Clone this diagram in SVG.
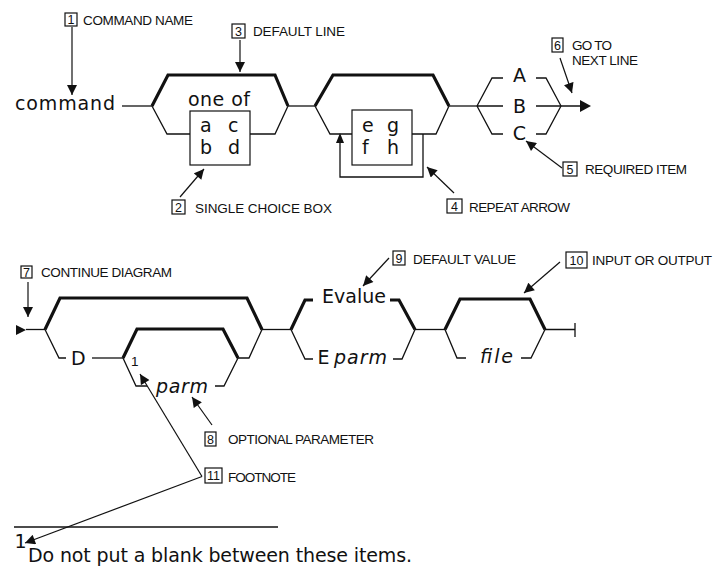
<svg xmlns="http://www.w3.org/2000/svg" width="713" height="568" viewBox="0 0 713 568">
<defs>
<style>
.thin{fill:none;stroke:#111;stroke-width:1.3;stroke-linejoin:miter}
.thick{fill:none;stroke:#111;stroke-width:3.2;stroke-linejoin:miter}
.ptr{fill:none;stroke:#111;stroke-width:1.2;marker-end:url(#ah)}
.box{fill:#fff;stroke:#111;stroke-width:1.2}
.num{font-family:"Liberation Sans",Arial,sans-serif;font-size:12.5px;fill:#111;text-anchor:middle}
.lab{font-family:"Liberation Sans",Arial,sans-serif;font-size:13.5px;fill:#111}
.dg{font-family:"DejaVu Sans","Liberation Sans",sans-serif;font-size:19px;fill:#111}
.it{font-style:italic}
.ctr{text-anchor:middle}
</style>
<marker id="ah" viewBox="0 0 10 10" refX="10" refY="5" markerWidth="11" markerHeight="10" orient="auto" markerUnits="userSpaceOnUse">
<path d="M0,0 L10,5 L0,10 z" fill="#111"/>
</marker>
</defs>
<rect width="713" height="568" fill="#fff"/>

<g id="connectors">
<path class="thin" d="M122,106 H152"/>
<path class="thin" d="M288,106 H315"/>
<path class="thin" d="M449,106 H477"/>
<path class="thin" d="M536,106 H581"/>
<path d="M580,100 L591,106 L580,112 z" fill="#111"/>
<path class="thin" d="M423,134 V177 H340 V140"/>
<path d="M336,143 L340,133 L344,143 z" fill="#111"/>
<path d="M16,325 L26,330 L16,335 z" fill="#111"/>
<path class="thin" d="M26,329.5 H45"/>
<path class="thin" d="M92,358 H123"/>
<path class="thin" d="M262,329.5 H291"/>
<path class="thin" d="M415,329.5 H445"/>
<path class="thin" d="M545,329.5 H575 M575,323 V337"/>
</g>

<g id="bracket-choice">
<path class="thick" d="M152,106 L168,75 H275 L288,106"/>
<path class="thin" d="M152,106 L167,134 H190 M250,134 H275 L288,106"/>
<rect class="box" x="190" y="111" width="60" height="54"/>
<text class="dg" x="188" y="106" font-size="18" textLength="62">one of</text>
<text class="dg" x="200" y="132" font-size="18">a</text>
<text class="dg" x="228" y="132" font-size="18">c</text>
<text class="dg" x="200" y="154" font-size="18">b</text>
<text class="dg" x="228" y="154" font-size="18">d</text>
</g>

<g id="command">
<text class="dg" x="15" y="110" font-size="20" textLength="100">command</text>
</g>

<g id="bracket-repeat">
<path class="thick" d="M315,106 L333,75 H433 L449,106"/>
<path class="thin" d="M315,106 L330,134 H352 M412,134 H436 L449,106"/>
<rect class="box" x="352" y="110" width="60" height="55"/>
<text class="dg" x="362" y="132" font-size="18">e</text>
<text class="dg" x="387" y="132" font-size="18">g</text>
<text class="dg" x="362" y="154" font-size="18">f</text>
<text class="dg" x="387" y="154" font-size="18">h</text>
</g>

<g id="required-choice">
<path class="thin" d="M477,106 L492,78 H503 M536,78 H546 L561,106 M477,106 H503 M477,106 L492,134 H503 M536,134 H546 L561,106"/>
<text class="dg ctr" x="519.5" y="82" font-size="18">A</text>
<text class="dg ctr" x="519.5" y="113" font-size="18">B</text>
<text class="dg ctr" x="519.5" y="140" font-size="18">C</text>
</g>

<g id="bracket-d">
<path class="thick" d="M45,329.5 L60,298 H247 L262,329.5"/>
<path class="thin" d="M45,329.5 L59,358 H66 M238,358 H249 L262,329.5"/>
<text class="dg" x="71" y="365" font-size="19">D</text>
</g>

<g id="bracket-parm">
<path class="thick" d="M123,358 L137,329 H223 L238,358"/>
<path class="thin" d="M123,358 L136,386 H147 M215,386 H224 L238,358"/>
<text class="dg it" x="156" y="393" font-size="19" textLength="52">parm</text>
<text class="lab" x="131" y="366" font-size="10.5">1</text>
</g>

<g id="bracket-evalue">
<path class="thick" d="M291,329.5 L305,300 H313 M390,300 H399 L415,329.5"/>
<path class="thin" d="M291,329.5 L305,359 H313 M393,359 H402 L415,329.5"/>
<text class="dg" x="322" y="303" font-size="19" textLength="64">Evalue</text>
<text class="dg" x="317.5" y="363.5" font-size="16" textLength="8">E</text>
<text class="dg it" x="334" y="363.5" font-size="19" textLength="53">parm</text>
</g>

<g id="bracket-file">
<path class="thick" d="M445,329.5 L460,299 H530 L545,329.5"/>
<path class="thin" d="M445,329.5 L457,358 H466 M521,358 H531 L545,329.5"/>
<text class="dg it" x="480" y="363" font-size="19" textLength="33">file</text>
</g>

<g id="callout-1">
<rect class="box" x="65" y="13" width="12" height="13"/>
<text class="num" x="71" y="24">1</text>
<text class="lab" x="83" y="25" textLength="110">COMMAND NAME</text>
<path class="ptr" d="M72,27 V95"/>
</g>
<g id="callout-2">
<rect class="box" x="172" y="200" width="13" height="14"/>
<text class="num" x="178.5" y="211.5">2</text>
<text class="lab" x="195" y="213" textLength="137">SINGLE CHOICE BOX</text>
<path class="ptr" d="M180,197 L204,169"/>
</g>
<g id="callout-3">
<rect class="box" x="232" y="24" width="13" height="14"/>
<text class="num" x="238.5" y="35.5">3</text>
<text class="lab" x="253" y="36" textLength="92">DEFAULT LINE</text>
<path class="ptr" d="M240,40 V72"/>
</g>
<g id="callout-4">
<rect class="box" x="447" y="199" width="15" height="14"/>
<text class="num" x="454.5" y="210.5">4</text>
<text class="lab" x="469" y="212" textLength="101">REPEAT ARROW</text>
<path class="ptr" d="M454,193 L427,167"/>
</g>
<g id="callout-5">
<rect class="box" x="563" y="162" width="14" height="14"/>
<text class="num" x="570" y="173.5">5</text>
<text class="lab" x="585" y="174" textLength="102">REQUIRED ITEM</text>
<path class="ptr" d="M562,168 L526,141"/>
</g>
<g id="callout-6">
<rect class="box" x="552" y="38" width="11" height="14"/>
<text class="num" x="557.5" y="49.5">6</text>
<text class="lab" x="572" y="50" textLength="40">GO TO</text>
<text class="lab" x="572" y="65" textLength="66">NEXT LINE</text>
<path class="ptr" d="M560,58 L572,93"/>
</g>
<g id="callout-7">
<rect class="box" x="21" y="266" width="11" height="12"/>
<text class="num" x="26.5" y="276.5">7</text>
<text class="lab" x="41" y="277" textLength="131">CONTINUE DIAGRAM</text>
<path class="ptr" d="M28,282 V317"/>
</g>
<g id="callout-8">
<rect class="box" x="205" y="432" width="11" height="14"/>
<text class="num" x="210.5" y="443.5">8</text>
<text class="lab" x="228" y="444" textLength="146">OPTIONAL PARAMETER</text>
<path class="ptr" d="M212,425 L192,397"/>
</g>
<g id="callout-9">
<rect class="box" x="393" y="251" width="12" height="14"/>
<text class="num" x="399" y="262.5">9</text>
<text class="lab" x="413" y="264" textLength="103">DEFAULT VALUE</text>
<path class="ptr" d="M389,258 L363,286"/>
</g>
<g id="callout-10">
<rect class="box" x="566" y="252" width="21" height="16"/>
<text class="num" x="576.5" y="264.5">10</text>
<text class="lab" x="592" y="265" textLength="120">INPUT OR OUTPUT</text>
<path class="ptr" d="M560,262 L524,293"/>
</g>
<g id="callout-11">
<rect class="box" x="205" y="468" width="17" height="15"/>
<text class="num" x="213.5" y="480">11</text>
<text class="lab" x="228" y="482" textLength="68">FOOTNOTE</text>
<path class="ptr" d="M202,476.5 L140,374"/>
<path class="ptr" d="M202,476.5 L25,543"/>
</g>

<g id="footnote">
<path class="thin" d="M14,527 H278"/>
<text class="dg" x="14.5" y="548" font-size="9">1</text>
<text class="dg" x="28" y="562" font-size="19" textLength="384">Do not put a blank between these items.</text>
</g>
</svg>
